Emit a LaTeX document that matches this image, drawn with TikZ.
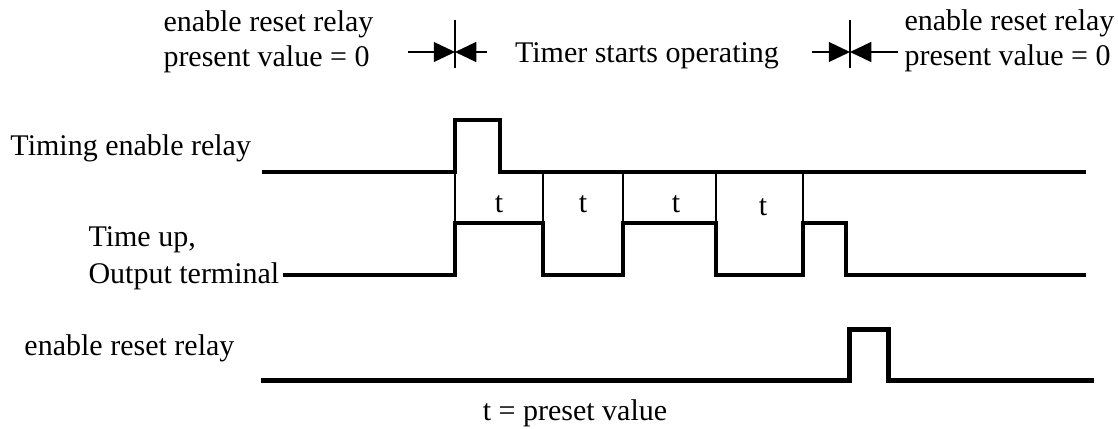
\documentclass[tikz,border=0pt]{standalone}
\usepackage{fontspec}
\setmainfont{Liberation Serif}
\usetikzlibrary{arrows.meta,positioning}

\begin{document}
\begin{tikzpicture}[x=0.4pt,y=-0.4pt,font=\fontsize{12}{14}\selectfont,>={Triangle[length=8.5pt,width=8pt]}]
\tikzset{wave/.style={draw=black,line width=1.5pt}, guide/.style={draw=black,line width=0.5pt}, lbl/.style={inner sep=0pt,anchor=base west}, bound/.style={draw=black,line width=0.5pt}}
\useasboundingbox (0,0) rectangle (1118,428);
% labels on the left
\node[lbl] (tenable) at (10,155) {Timing enable relay};
\node[lbl] (timeup) at (88,246) {Time up,};
\node[lbl] (outterm) at (88,283) {Output terminal};
\node[lbl] (rstlbl) at (24,355) {enable reset relay};
\node[inner sep=0pt,anchor=base] (preset) at (575,420) {t = preset value};
% top notes
\node[lbl,align=left] (noteL) at (163,66) {enable reset relay\\present value = 0};
\node[lbl,align=left] (noteR) at (904,65) {enable reset relay\\present value = 0};
\node[inner sep=0pt,anchor=base] (run) at (647,62) {Timer starts operating};
% start / stop markers
\coordinate (startT) at (455,20);
\coordinate (startB) at (455,68);
\coordinate (stopT) at (850,20);
\coordinate (stopB) at (850,68);
\draw[bound] (startT) -- (startB);
\draw[bound] (stopT) -- (stopB);
\draw[bound,->] (408,52) -- (455,52);
\draw[bound,->] (487,52) -- (455,52);
\draw[bound,->] (812,52) -- (850,52);
\draw[bound,->] (898,52) -- (850,52);
% waveforms
\draw[wave] (262,172) -- (455,172) -- (455,120) -- (500,120) -- (500,172) -- (1086,172);
\draw[wave] (outterm.east |- 0,275) ++(3,0) -- (455,275) -- (455,223) -- (543,223) -- (543,275) -- (623,275)
  -- (623,223) -- (716,223) -- (716,275) -- (803,275) -- (803,223) -- (846,223) -- (846,275) -- (1086,275);
\draw[wave,line width=2pt] (261,380) -- (849,380) -- (849,329) -- (888,329) -- (888,380) -- (1094,380);
\foreach \x in {455,543,623,716,803}
  \draw[guide] (\x,172) -- (\x,223);
\foreach \x/\y/\n in {499/212/t1,583/212/t2,676/212/t3,763/215/t4}
  \node[inner sep=0pt,anchor=base] (\n) at (\x,\y) {t};
\end{tikzpicture}
\end{document}
